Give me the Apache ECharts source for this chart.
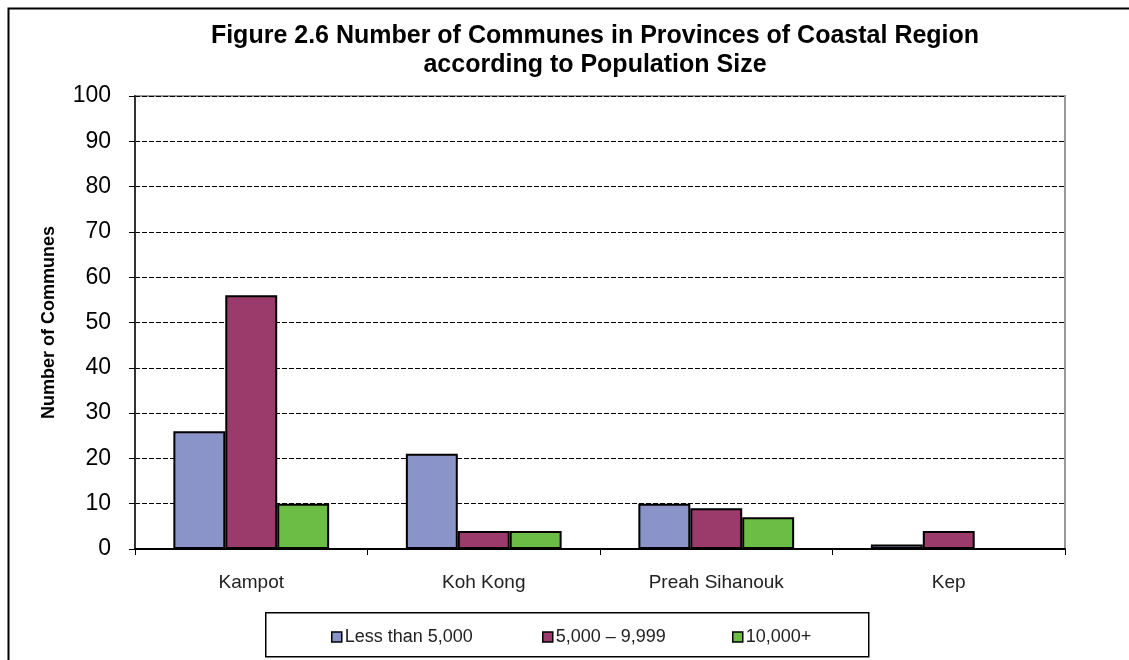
<!DOCTYPE html>
<html>
<head>
<meta charset="utf-8">
<script src="https://cdn.jsdelivr.net/npm/echarts@6/dist/echarts.min.js"></script>
<style>
html,body{margin:0;padding:0;background:#fff;}
#main{width:1129px;height:660px;}
</style>
</head>
<body>
<div id="main"></div>
<script>
var categories = ['Kampot', 'Koh Kong', 'Preah Sihanouk', 'Kep'];
var seriesNames = ['Less than 5,000', '5,000 – 9,999', '10,000+'];
var lessThan5000 = [26, 21, 10, 1];
var from5000to9999 = [56, 4, 9, 4];
var over10000 = [10, 4, 7, 0];
var yTicks = [0, 10, 20, 30, 40, 50, 60, 70, 80, 90, 100];

var colors = ['#8a94c8', '#9a3b6b', '#6cbd45'];
var values = [lessThan5000, from5000to9999, over10000];

var chart = echarts.init(document.getElementById('main'));
var font = 'Liberation Sans, Arial, sans-serif';

var series = seriesNames.map(function (n, i) {
  return {
    name: n,
    type: 'bar',
    data: values[i],
    barGap: '0%',
    barCategoryGap: '33%',
    itemStyle: { color: colors[i], borderColor: '#000', borderWidth: 2 },
    emphasis: { disabled: true }
  };
});

var legendLefts = [326, 537, 727];
var legends = seriesNames.map(function (n, i) {
  return {
    data: [n],
    left: legendLefts[i],
    top: 623,
    itemWidth: 10,
    itemHeight: 10,
    itemGap: 0,
    icon: 'rect',
    textStyle: { fontFamily: font, fontSize: 18, color: '#222', padding: [0, 0, 0, -2] },
    itemStyle: { borderColor: '#000', borderWidth: 1.5 },
    selectedMode: false
  };
});

chart.setOption({
  animation: false,
  backgroundColor: '#fff',
  title: {
    text: 'Figure 2.6 Number of Communes in Provinces of Coastal Region\naccording to Population Size',
    left: 590,
    top: 17,
    textAlign: 'center',
    textStyle: { fontFamily: font, fontSize: 25, fontWeight: 'bold', color: '#000', lineHeight: 29 }
  },
  legend: legends,
  grid: {
    left: 135, right: 64, top: 96, bottom: 111,
    show: true, borderColor: '#999', borderWidth: 2
  },
  xAxis: {
    type: 'category',
    data: categories,
    axisLine: { lineStyle: { color: '#000', width: 2 } },
    axisTick: { show: true, length: 6, lineStyle: { color: '#000' } },
    axisLabel: { fontFamily: font, fontSize: 19, color: '#222', margin: 24 }
  },
  yAxis: {
    type: 'value',
    min: 0, max: 100, interval: 10,
    name: 'Number of Communes',
    nameLocation: 'middle',
    nameGap: 77,
    nameTextStyle: { fontFamily: font, fontSize: 18, fontWeight: 'bold', color: '#000' },
    axisLine: { show: true, lineStyle: { color: '#333', width: 2 } },
    axisTick: { show: true, length: 6, lineStyle: { color: '#000' } },
    axisLabel: {
      fontFamily: font, fontSize: 23, color: '#000', margin: 24,
      formatter: function (v) { return yTicks.indexOf(v) >= 0 ? String(v) : ''; }
    },
    splitLine: { show: true, lineStyle: { color: '#000', width: 1, type: [5, 2] } }
  },
  series: series,
  graphic: [
    {
      type: 'rect', left: 6, top: 6, silent: true,
      shape: { width: 1200, height: 700 },
      style: { fill: 'none', stroke: '#000', lineWidth: 2 }
    },
    {
      type: 'rect', left: 265, top: 612, silent: true, z: -1,
      shape: { width: 603, height: 44 },
      style: { fill: '#fff', stroke: '#000', lineWidth: 1.5 }
    }
  ]
});
</script>
</body>
</html>
